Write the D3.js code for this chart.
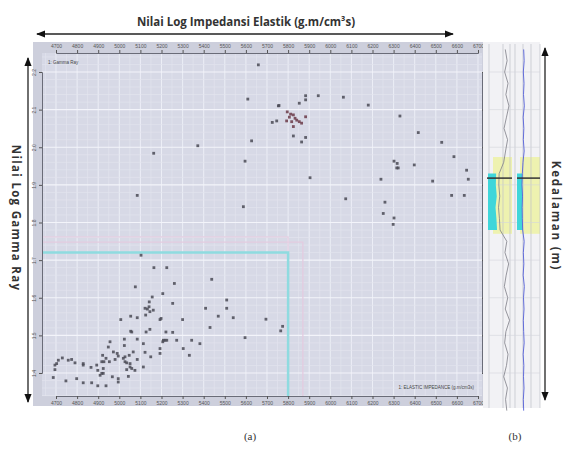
<!DOCTYPE html>
<html><head><meta charset="utf-8">
<script src="https://cdn.jsdelivr.net/npm/d3@7"></script>
<style>body{margin:0;background:#fff}svg{display:block}</style>
</head><body>
<svg id="c" width="563" height="450"></svg>
<script>
// ---- data ----
const xTicks = [4700,4800,4900,5000,5100,5200,5300,5400,5500,5600,5700,5800,5900,6000,6100,6200,6300,6400,6500,6600,6700];
const yTicks = [2.2,2.1,2.0,1.9,1.8,1.7,1.6,1.5,1.4];
const impedance = [5659,5609,5754,5725,5746,5627,5372,5163,5596,5085,5588,5883,5883,5943,6062,6180,5757,5853,
 5796,5812,5825,5806,5833,5841,5817,5853,5864,5825,5793,5883,5825,5883,5864,6330,6417,6528,6586,6302,6317,6315,6322,
 6398,6646,6654,6485,6240,5904,6575,6635,6073,6259,6251,6302,6298,5695,5774,5765,
 5103,5164,5225,5261,5438,5076,5206,5156,5253,5142,5122,5133,5141,5145,5125,5161,5409,5509,5509,5469,5540,5430,
 5198,5193,5300,5007,5054,5085,5145,5127,5054,5059,5221,5253,5596,4956,5024,5085,5209,5217,5225,5206,5272,5343,
 5382,5114,5024,4948,5303,5122,5149,5193,5193,5332,5066,5047,5085,5027,5019,4972,4990,4995,4980,4921,4937,4927,
 4953,5027,5035,5051,4893,4917,4924,4917,4909,4924,5051,5074,5059,5114,5035,5043,4995,4995,4967,4866,4898,4829,
 4829,4790,4774,4758,4730,4711,4703,4695,4695,4687,4747,4798,4829,4869,4898,4937];
const logGR = [2.219,2.128,2.110,2.066,2.070,2.017,2.004,1.984,1.963,1.872,1.842,2.137,2.126,2.137,2.133,2.112,2.111,2.117,
 2.094,2.088,2.086,2.080,2.077,2.072,2.068,2.068,2.064,2.055,2.070,2.081,2.030,2.026,2.014,2.083,2.039,2.013,1.975,1.963,1.957,1.945,1.945,
 1.953,1.939,1.915,1.910,1.915,1.919,1.872,1.872,1.863,1.854,1.824,1.812,1.795,1.543,1.524,1.512,
 1.713,1.680,1.680,1.638,1.649,1.629,1.611,1.602,1.585,1.589,1.572,1.570,1.576,1.563,1.554,1.567,1.572,1.594,1.572,1.551,1.547,1.521,
 1.545,1.542,1.542,1.542,1.551,1.547,1.516,1.509,1.511,1.509,1.509,1.508,1.494,1.483,1.490,1.490,1.487,1.487,1.487,1.483,1.487,1.487,
 1.478,1.478,1.473,1.469,1.465,1.455,1.443,1.465,1.452,1.447,1.456,1.447,1.436,1.443,1.439,1.456,1.452,1.445,1.436,1.447,1.439,1.430,
 1.430,1.430,1.427,1.425,1.421,1.430,1.412,1.399,1.394,1.399,1.416,1.407,1.412,1.416,1.409,1.391,1.385,1.376,1.390,1.415,1.407,1.425,
 1.421,1.427,1.436,1.434,1.440,1.434,1.425,1.421,1.409,1.388,1.379,1.385,1.374,1.374,1.366,1.366];
const depthTicks = [1100,1110,1120,1130,1140,1150,1160,1170,1180];
const logDepth = [1094,1097,1100,1103,1106,1109,1112,1115,1118,1121,1124,1127,1130,1133,1136,1139,1142,1145,1148,1151,1154,1157,1160,1163,1166,1169,1172,1175,1178,1181,1184,1187,1190];
const grCurve  = [ 80, 92, 76, 98, 84,104, 88, 72, 95, 82, 70, 40, 38, 44, 36, 42, 46, 90, 78,102, 86, 74, 96, 80,108, 84, 76, 98, 88, 70, 94, 82, 90];
const ieCurve  = [ 52, 55, 50, 54, 51, 56, 49, 53, 50, 55, 48, 44, 42, 45, 43, 44, 46, 55, 50, 53, 49, 56, 51, 54, 50, 52, 55, 49, 53, 51, 54, 50, 52];
const sandZone = [1127, 1143];
const markerDepth = 1128.2;
const zoneTop = 1122.6;

// ---- scales ----
const svg = d3.select("#c");
const x = d3.scaleLinear().domain([4700,6700]).range([56,478]);
const y = d3.scaleLinear().domain([2.2,1.4]).range([72,373]);
const dep = d3.scaleLinear().domain([1100,1180]).range([72,373]);
const PL=42, PR=482, PT=53, PB=396;

// outer panel
svg.append("rect").attr("x",33).attr("y",42).attr("width",450).attr("height",364).attr("fill","#cdcfdc");
svg.append("rect").attr("x",PL).attr("y",PT).attr("width",PR-PL).attr("height",PB-PT).attr("fill","#d7d9e6");

// grid
const g = svg.append("g");
const xv0 = x.invert(PL), xv1 = x.invert(PR);
d3.range(4650,6751,50).filter(v=>v>xv0&&v<xv1).forEach(v=>{
  g.append("line").attr("x1",x(v)).attr("x2",x(v)).attr("y1",PT).attr("y2",PB)
   .attr("stroke", v%100===0?"#eceef6":"#e2e4ee").attr("stroke-width",v%100===0?1:0.7);
});
d3.range(1.30,2.30,0.02).forEach(v=>{
  const yy=y(v); if(yy<=PT||yy>=PB) return;
  const major = Math.abs(Math.round(v*10)-v*10)<1e-6;
  g.append("line").attr("x1",PL).attr("x2",PR).attr("y1",yy).attr("y2",yy)
   .attr("stroke", major?"#f3f4fa":"#e2e4ee").attr("stroke-width",major?1.2:0.7);
});

// pink / cyan selection frames
const sel = svg.append("g").attr("fill","none");
sel.append("path").attr("d",`M${PL},${y(1.748)}H${x(5870)}V${PB}`).attr("stroke","#e3cbe0").attr("stroke-width",1.3);
sel.append("path").attr("d",`M${PL},${y(1.762)}H${x(5800)}V${PB}`).attr("stroke","#e5cfe2").attr("stroke-width",1.3);
sel.append("path").attr("d",`M${PL},${y(1.720)}H${x(5800)}V${PB}`).attr("stroke","#8fdbe0").attr("stroke-width",2.5);

// axes
const fs = "5px";
const axT = svg.append("g").attr("transform",`translate(0,${PT})`).call(d3.axisTop(x).tickValues(xTicks).tickSize(3).tickPadding(2).tickFormat(d3.format("d")));
const axB = svg.append("g").attr("transform",`translate(0,${PB})`).call(d3.axisBottom(x).tickValues(xTicks).tickSize(3).tickPadding(2).tickFormat(d3.format("d")));
const axL = svg.append("g").attr("transform",`translate(${PL},0)`).call(d3.axisLeft(y).tickValues(yTicks).tickSize(3).tickPadding(2).tickFormat(d3.format(".1f")));
const axR = svg.append("g").attr("transform",`translate(${PR},0)`).call(d3.axisRight(y).tickValues(yTicks).tickSize(3).tickPadding(2).tickFormat(d3.format(".1f")));
[axT,axB,axL,axR].forEach(a=>{
  a.selectAll("text").attr("font-size",fs).attr("fill","#555").attr("font-family","Liberation Sans");
  a.selectAll(".tick line").attr("stroke","#555");
  a.select(".domain").attr("stroke","#6a6c78");
});
axL.selectAll("text").attr("transform","rotate(-90)").attr("text-anchor","middle").attr("x",0).attr("dy","0").attr("y",-6);
axR.selectAll("text").attr("transform","rotate(-90)").attr("text-anchor","middle").attr("x",0).attr("dy","0").attr("y",10);

// inner labels
svg.append("text").attr("x",48).attr("y",64).attr("font-size","4.5px").attr("fill","#444").attr("font-family","Liberation Sans").text("1: Gamma Ray");
svg.append("text").attr("x",474).attr("y",389).attr("text-anchor","end").attr("font-size","4.5px").attr("fill","#444").attr("font-family","Liberation Sans").text("1: ELASTIC IMPEDANCE (g.m/cm3s)");

// points
svg.append("g").selectAll("rect").data(impedance.map((v,i)=>[v,logGR[i]])).join("rect")
  .attr("x",d=>x(d[0])-1.4).attr("y",d=>y(d[1])-1.4).attr("width",2.8).attr("height",2.8)
  .attr("fill",(d,i)=> (i>=18&&i<=29)?"#6b3a48":"#4a4a55").attr("opacity",0.85);

// ---- well log panel (b) ----
const W = svg.append("g");
W.append("rect").attr("x",483).attr("y",42).attr("width",57).attr("height",366).attr("fill","#f2f2f5");
const gx = d3.scaleLinear().domain([0,150]).range([489,512]);
const bx = d3.scaleLinear().domain([0,150]).range([515,540]);
// yellow zone
W.append("rect").attr("x",493).attr("y",dep(zoneTop)).attr("width",19).attr("height",dep(sandZone[1])-dep(zoneTop)).attr("fill","#eef2b0");
W.append("rect").attr("x",520).attr("y",dep(zoneTop)).attr("width",20).attr("height",dep(sandZone[1])-dep(zoneTop)).attr("fill","#eef2b0");
// track lines
[489,503,510,515,523,531,540].forEach(v=>W.append("line").attr("x1",v).attr("x2",v).attr("y1",44).attr("y2",408).attr("stroke","#bfc1c8").attr("stroke-width",0.7));
depthTicks.forEach(v=>W.append("line").attr("x1",489).attr("x2",540).attr("y1",dep(v)).attr("y2",dep(v)).attr("stroke","#d4d5db").attr("stroke-width",0.6));
// cyan fills
const zoneIdx = logDepth.map((d,i)=>i).filter(i=>logDepth[i]>=sandZone[0]-0.01&&logDepth[i]<=sandZone[1]+1);
const zd = zoneIdx.map(i=>[logDepth[i],grCurve[i],ieCurve[i]]);
W.append("path").datum(zd).attr("fill","#3fd6da")
  .attr("d",d3.area().y(d=>dep(d[0])).x0(488).x1(d=>gx(d[1])+1));
W.append("path").datum(zd).attr("fill","#3fd6da")
  .attr("d",d3.area().y(d=>dep(d[0])).x0(517).x1(d=>bx(d[2])));
// curves
W.append("path").datum(logDepth.map((d,i)=>[d,grCurve[i]])).attr("fill","none").attr("stroke","#7e7e86").attr("stroke-width",0.8)
  .attr("d",d3.line().y(d=>dep(d[0])).x(d=>gx(d[1])+4));
W.append("path").datum(logDepth.map((d,i)=>[d,ieCurve[i]])).attr("fill","none").attr("stroke","#5560d8").attr("stroke-width",0.9)
  .attr("d",d3.line().y(d=>dep(d[0])).x(d=>bx(d[1])));
// marker lines
W.append("line").attr("x1",487).attr("x2",512).attr("y1",dep(markerDepth)).attr("y2",dep(markerDepth)).attr("stroke","#333").attr("stroke-width",1.5);
W.append("line").attr("x1",517).attr("x2",540).attr("y1",dep(markerDepth)).attr("y2",dep(markerDepth)).attr("stroke","#333").attr("stroke-width",1.5);

// ---- arrows and titles ----
const defs = svg.append("defs");
defs.append("marker").attr("id","ah").attr("viewBox","0 0 10 10").attr("refX",9).attr("refY",5)
  .attr("markerWidth",7).attr("markerHeight",7).attr("orient","auto-start-reverse")
  .append("path").attr("d","M0,1L10,5L0,9z").attr("fill","#111");
function arrow(x1,y1,x2,y2){
  svg.append("line").attr("x1",x1).attr("y1",y1).attr("x2",x2).attr("y2",y2).attr("stroke","#222").attr("stroke-width",1.3)
    .attr("marker-start","url(#ah)").attr("marker-end","url(#ah)");
}
arrow(37,34,453,34);
arrow(28,58,28,402);
arrow(545,48,545,400);

const tf = "'Open Sans', 'Liberation Sans', sans-serif";
svg.append("text").attr("x",246).attr("y",26).attr("text-anchor","middle").attr("font-family",tf).attr("font-weight",700)
  .attr("font-size","11.5px").attr("fill","#333").text("Nilai Log Impedansi Elastik (g.m/cm³s)");
svg.append("text").attr("transform","translate(12,218) rotate(90)").attr("text-anchor","middle").attr("font-family",tf).attr("font-weight",700)
  .attr("font-size","11.5px").attr("letter-spacing","1.3px").attr("fill","#333").text("Nilai Log Gamma Ray");
svg.append("text").attr("transform","translate(552,216) rotate(90)").attr("text-anchor","middle").attr("font-family",tf).attr("font-weight",700)
  .attr("font-size","11.5px").attr("letter-spacing","1.8px").attr("fill","#333").text("Kedalaman (m)");
svg.append("text").attr("x",250).attr("y",440).attr("text-anchor","middle").attr("font-family","'Liberation Serif', serif").attr("font-size","11px").attr("fill","#333").text("(a)");
svg.append("text").attr("x",515).attr("y",440).attr("text-anchor","middle").attr("font-family","'Liberation Serif', serif").attr("font-size","11px").attr("fill","#333").text("(b)");
</script>
</body></html>
